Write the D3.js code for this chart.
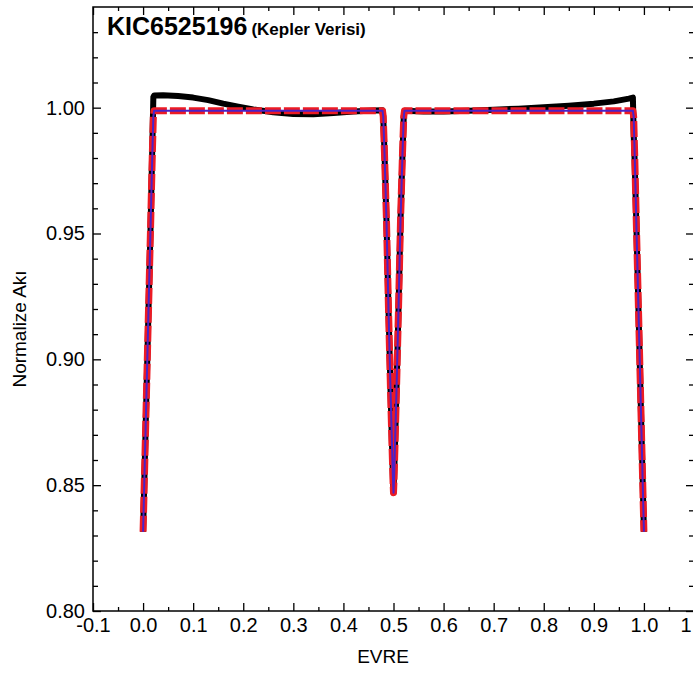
<!DOCTYPE html>
<html>
<head>
<meta charset="utf-8">
<script src="https://cdn.jsdelivr.net/npm/d3@7"></script>
<style>
  body { margin: 0; background: #fff; }
  text { font-family: "Liberation Sans", Arial, sans-serif; }
</style>
</head>
<body>
<div id="chart"></div>
<script>
// observed (Kepler) phase / flux
const obsPhase = [0.000, 0.005, 0.010, 0.015, 0.019, 0.0205, 0.022, 0.04, 0.07, 0.10, 0.13, 0.16, 0.19, 0.22, 0.26, 0.30, 0.34, 0.38, 0.42, 0.46, 0.478,
  0.4795, 0.482, 0.486, 0.490, 0.494, 0.497, 0.499, 0.500, 0.501, 0.503, 0.506, 0.510, 0.514, 0.518, 0.5205, 0.522,
  0.56, 0.60, 0.65, 0.70, 0.75, 0.80, 0.85, 0.90, 0.94, 0.97, 0.978, 0.9795, 0.981, 0.985, 0.990, 0.995, 1.000];
const obsFlux = [0.8315, 0.872, 0.913, 0.953, 0.990, 1.0042, 1.0048, 1.0049, 1.0046, 1.0040, 1.0030, 1.0016, 1.0004, 0.9993, 0.9982, 0.9975, 0.9974, 0.9979, 0.9985, 0.9989, 0.9990,
  0.9965, 0.982, 0.955, 0.920, 0.888, 0.866, 0.852, 0.847, 0.852, 0.866, 0.888, 0.920, 0.955, 0.982, 0.9965, 0.9988,
  0.9985, 0.9985, 0.9988, 0.9992, 0.9996, 1.0002, 1.0008, 1.0016, 1.0025, 1.0036, 1.0040, 0.990, 0.982, 0.953, 0.913, 0.872, 0.8315];

// model phase / flux
const modPhase = [0.000, 0.005, 0.010, 0.015, 0.0185, 0.0205, 0.022, 0.10, 0.20, 0.30, 0.40, 0.478,
  0.4795, 0.482, 0.486, 0.490, 0.494, 0.497, 0.499, 0.500, 0.501, 0.503, 0.506, 0.510, 0.514, 0.518, 0.5205, 0.522,
  0.60, 0.70, 0.80, 0.90, 0.978, 0.9795, 0.9815, 0.985, 0.990, 0.995, 1.000];
const modFlux = [0.8315, 0.872, 0.913, 0.953, 0.982, 0.9965, 0.9988, 0.9988, 0.9988, 0.9988, 0.9988, 0.9988,
  0.9965, 0.982, 0.955, 0.920, 0.888, 0.866, 0.852, 0.847, 0.852, 0.866, 0.888, 0.920, 0.955, 0.982, 0.9965, 0.9988,
  0.9988, 0.9988, 0.9988, 0.9988, 0.9988, 0.9965, 0.982, 0.953, 0.913, 0.872, 0.8315];

const xMajor = [-0.1, 0.0, 0.1, 0.2, 0.3, 0.4, 0.5, 0.6, 0.7, 0.8, 0.9, 1.0, 1.1];
const xMinor = [-0.05, 0.05, 0.15, 0.25, 0.35, 0.45, 0.55, 0.65, 0.75, 0.85, 0.95, 1.05];
const yMajor = [0.80, 0.85, 0.90, 0.95, 1.00];
const yMinor = [0.81, 0.82, 0.83, 0.84, 0.86, 0.87, 0.88, 0.89, 0.91, 0.92, 0.93, 0.94, 0.96, 0.97, 0.98, 0.99, 1.01, 1.02, 1.03];

const W = 693, H = 680;
const L = 93, R = 694, T = 7, B = 611;

const svg = d3.select("#chart").append("svg")
  .attr("width", W).attr("height", H);

const x = d3.scaleLinear().domain([-0.1, 1.1]).range([L, R]);
const y = d3.scaleLinear().domain([0.80, 1.04]).range([B, T]);

svg.append("defs").append("clipPath").attr("id", "clip")
  .append("rect").attr("x", L).attr("y", T).attr("width", R - L).attr("height", B - T);

const fmtX = d => d3.format(".1f")(d).replace("\u2212", "-");

// axes
function addAxis(gen, tx, ty, vals, size, fmt, cls) {
  const g = svg.append("g")
    .attr("class", cls)
    .attr("transform", `translate(${tx},${ty})`)
    .call(gen.tickValues(vals).tickSize(size).tickSizeOuter(0).tickFormat(fmt));
  g.select(".domain").remove();
  g.selectAll("line").attr("stroke", "#000").attr("stroke-width", 1.3);
  g.selectAll("text").attr("fill", "#000").style("font-size", "20px");
  return g;
}

addAxis(d3.axisBottom(x).tickPadding(7), 0, B, xMajor, -8, fmtX, "xmaj");
addAxis(d3.axisBottom(x), 0, B, xMinor, -4, "", "xmin");
addAxis(d3.axisTop(x), 0, T, xMajor, -8, "", "xtop");
addAxis(d3.axisTop(x), 0, T, xMinor, -4, "", "xtopmin");
addAxis(d3.axisLeft(y).tickPadding(8), L, 0, yMajor, -8, d3.format(".2f"), "ymaj");
addAxis(d3.axisLeft(y), L, 0, yMinor, -5, "", "ymin");
addAxis(d3.axisRight(y), R, 0, yMajor, -8, "", "yright");
addAxis(d3.axisRight(y), R, 0, yMinor, -5, "", "yrightmin");

svg.append("rect")
  .attr("x", L).attr("y", T).attr("width", R - L).attr("height", B - T)
  .attr("fill", "none").attr("stroke", "#000").attr("stroke-width", 1.5);

// curves
const line = d3.line()
  .x(d => x(d[0]))
  .y(d => y(d[1]));

const plot = svg.append("g").attr("clip-path", "url(#clip)");

plot.append("path")
  .datum(obsPhase.map((p, i) => [p, obsFlux[i]]))
  .attr("d", line)
  .attr("fill", "none")
  .attr("stroke", "#000")
  .attr("stroke-width", 6)
  .attr("stroke-linejoin", "round");

const modData = modPhase.map((p, i) => [p, modFlux[i]]);

plot.append("path")
  .datum(modData)
  .attr("d", line)
  .attr("fill", "none")
  .attr("stroke", "#ec1b24")
  .attr("stroke-width", 7)
  .attr("stroke-dasharray", "16,3")
  .attr("stroke-linejoin", "round");

plot.append("path")
  .datum(modData)
  .attr("d", line)
  .attr("fill", "none")
  .attr("stroke", "#4a22c8")
  .attr("stroke-width", 2)
  .attr("stroke-linejoin", "round");

// titles
const title = svg.append("text")
  .attr("x", 107).attr("y", 35)
  .style("font-weight", "bold")
  .attr("fill", "#000");
title.append("tspan").style("font-size", "25px").text("KIC6525196");
title.append("tspan").style("font-size", "17px").attr("dx", 4).text("(Kepler Verisi)");

svg.append("text")
  .attr("x", 383).attr("y", 663)
  .attr("text-anchor", "middle")
  .style("font-size", "19px")
  .attr("fill", "#000")
  .text("EVRE");

svg.append("text")
  .attr("transform", `translate(26,${(T + B) / 2 + 20}) rotate(-90)`)
  .attr("text-anchor", "middle")
  .style("font-size", "19px")
  .attr("fill", "#000")
  .text("Normalize Akı");
</script>
</body>
</html>
